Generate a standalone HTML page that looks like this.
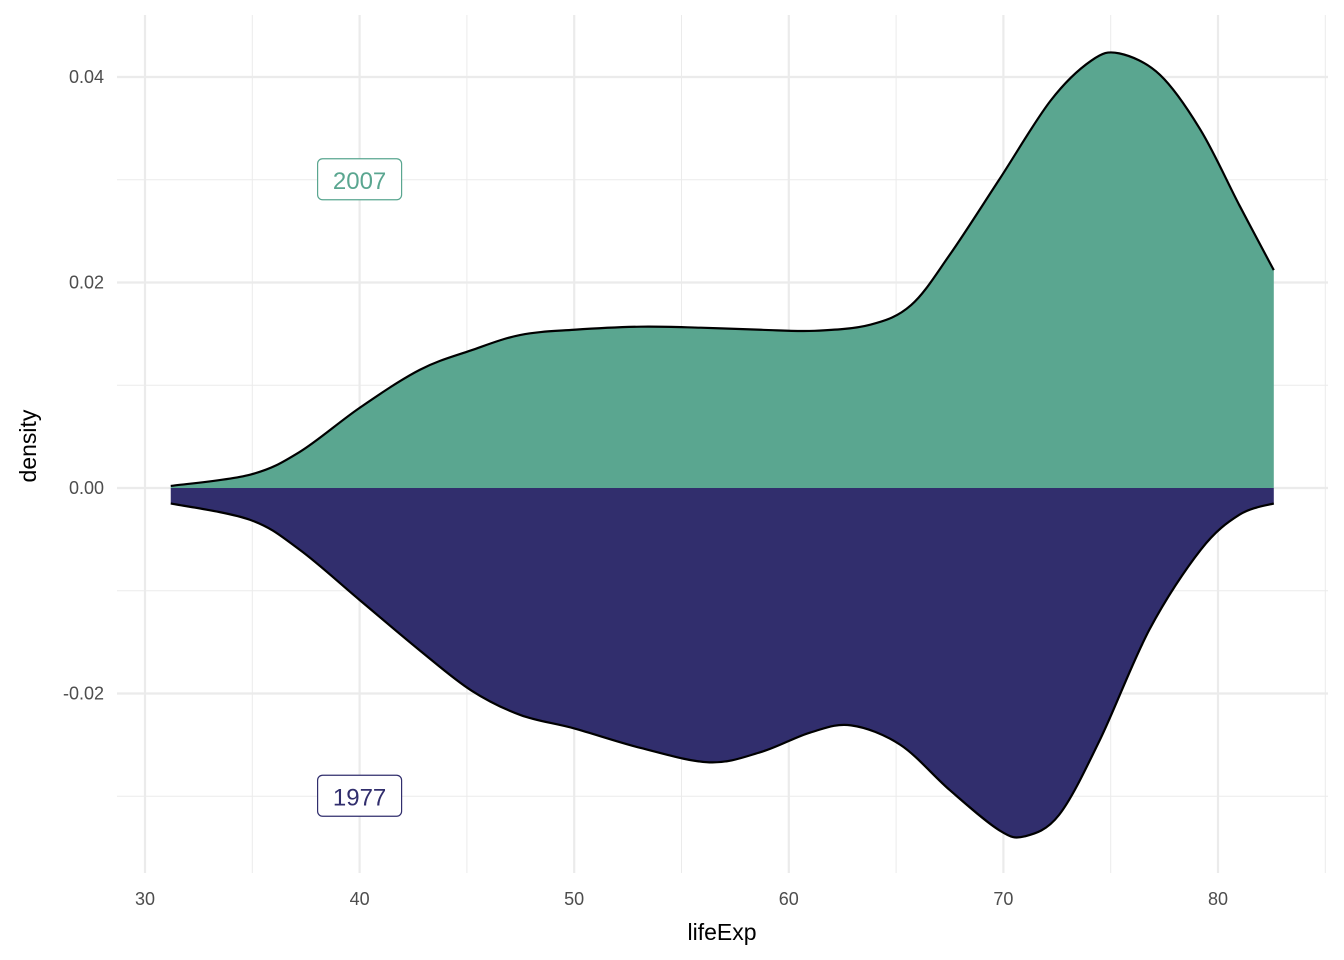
<!DOCTYPE html>
<html><head><meta charset="utf-8"><style>
body{margin:0;background:#fff;}
svg{display:block;font-family:"Liberation Sans",Arial,sans-serif;}
</style></head><body>
<svg id="chart" width="1344" height="960" viewBox="0 0 1344 960">
<g id="grid"></g>
<g id="areas"></g>
<g id="axes"></g>
<text x="722" y="940" font-size="23" text-anchor="middle" fill="#000">lifeExp</text>
<text transform="translate(36,446) rotate(-90)" font-size="23" text-anchor="middle" fill="#000">density</text>
</svg>
<script>
const xTicks=[30,40,50,60,70,80];
const xMinor=[35,45,55,65,75,85];
const yTicks=[0.04,0.02,0.00,-0.02];
const yTickLabels=["0.04","0.02","0.00","-0.02"];
const yMinor=[0.03,0.01,-0.01,-0.03];
const lifeExp=[31.2,34.9,37.2,40.0,42.8,45.2,47.5,50.0,53.1,55.9,58.7,61.2,63.8,65.7,67.5,69.8,72.2,74.1,75.4,77.3,79.2,81.0,82.6];
const density2007=[0.0002,0.0013,0.0035,0.0078,0.0115,0.0134,0.0149,0.0154,0.0157,0.0156,0.0154,0.0153,0.0159,0.0178,0.0227,0.030,0.0377,0.0416,0.0423,0.0402,0.0348,0.0275,0.0212];
const lifeExp1977=[31.2,34.9,37.2,40.0,42.8,45.2,47.5,50.0,53.1,56.3,58.7,61.0,62.9,65.2,67.5,69.8,71.0,72.6,74.5,76.8,79.2,81.0,82.6];
const density1977=[-0.0015,-0.0031,-0.006,-0.0109,-0.0158,-0.0197,-0.0221,-0.0234,-0.0253,-0.0267,-0.0257,-0.0238,-0.0231,-0.025,-0.0294,-0.0333,-0.0339,-0.0318,-0.0245,-0.0138,-0.006,-0.0026,-0.0015];
const labels=[{t:"2007",x:40,y:0.03,c:"#5AA690"},{t:"1977",x:40,y:-0.03,c:"#312E6D"}];

const NS="http://www.w3.org/2000/svg";
const X=v=>145+(v-30)*21.46;
const Y=v=>488-v*10275;
const L=117,R=1328,T=15,B=873;
function mk(tag,attrs,parent){const e=document.createElementNS(NS,tag);for(const k in attrs)e.setAttribute(k,attrs[k]);parent.appendChild(e);return e;}
const grid=document.getElementById('grid'),axes=document.getElementById('axes'),areas=document.getElementById('areas');
xMinor.forEach(v=>{const e=mk('line',{x1:X(v),x2:X(v),y1:T,y2:B,stroke:'#EBEBEB','stroke-width':1},grid);

});
yMinor.forEach(v=>{const e=mk('line',{x1:L,x2:R,y1:Y(v),y2:Y(v),stroke:'#EBEBEB','stroke-width':1},grid);

});
xTicks.forEach(v=>{const e=mk('line',{x1:X(v),x2:X(v),y1:T,y2:B,stroke:'#EBEBEB','stroke-width':2.2},grid);


const t=mk('text',{x:X(v),y:905,'font-size':18,'text-anchor':'middle',fill:'#4D4D4D'},axes);t.textContent=v;

});
yTicks.forEach((v,i)=>{const e=mk('line',{x1:L,x2:R,y1:Y(v),y2:Y(v),stroke:'#EBEBEB','stroke-width':2.2},grid);


const t=mk('text',{x:104,y:Y(v)+6,'font-size':18,'text-anchor':'end',fill:'#4D4D4D'},axes);t.textContent=yTickLabels[i];

});
function smooth(pts){let d=`M${pts[0][0]},${pts[0][1]}`;for(let i=0;i<pts.length-1;i++){const p0=pts[Math.max(0,i-1)],p1=pts[i],p2=pts[i+1],p3=pts[Math.min(pts.length-1,i+2)];
const c1=[p1[0]+(p2[0]-p0[0])/6,p1[1]+(p2[1]-p0[1])/6],c2=[p2[0]-(p3[0]-p1[0])/6,p2[1]-(p3[1]-p1[1])/6];
d+=` C${c1[0]},${c1[1]} ${c2[0]},${c2[1]} ${p2[0]},${p2[1]}`;}return d;}
function area(xs,ys,color,name){const pts=xs.map((x,i)=>[X(x),Y(ys[i])]);const c=smooth(pts);
const f=mk('path',{d:c+` L${X(xs[xs.length-1])},${Y(0)} L${X(xs[0])},${Y(0)} Z`,fill:color,stroke:'none'},areas);


const s=mk('path',{d:c,fill:'none',stroke:'#000','stroke-width':2.2},areas);

}
area(lifeExp,density2007,'#5AA690','density-2007');
area(lifeExp1977,density1977,'#312E6D','density-1977');
labels.forEach(l=>{const g=mk('g',{},areas);


mk('rect',{x:X(l.x)-42,y:Y(l.y)-21,width:84,height:41,rx:5,fill:'#fff',stroke:l.c,'stroke-width':1.2},g);
const t=mk('text',{x:X(l.x),y:Y(l.y)+9,'font-size':24,'text-anchor':'middle',fill:l.c},g);t.textContent=l.t;});
</script>
</body></html>
